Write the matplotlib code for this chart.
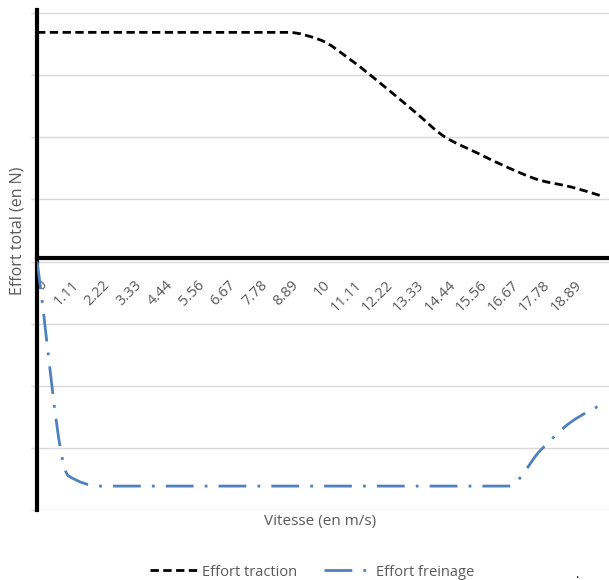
import matplotlib
matplotlib.use("Agg")
import matplotlib.pyplot as plt
import matplotlib.transforms as mtransforms
from matplotlib.lines import Line2D
from matplotlib.path import Path
from matplotlib.patches import PathPatch

plt.rcParams['font.family'] = ['Open Sans', 'DejaVu Sans']

speed_labels = ["0", "1.11", "2.22", "3.33", "4.44", "5.56", "6.67", "7.78", "8.89",
                "10", "11.11", "12.22", "13.33", "14.44", "15.56", "16.67", "17.78", "18.89", "20"]
traction = [3.69, 3.69, 3.69, 3.69, 3.69, 3.69, 3.69, 3.69, 3.69,
            3.57, 3.24, 2.84, 2.42, 2.00, 1.75, 1.51, 1.31, 1.20, 1.05]
freinage = [0.0, -3.45, -3.615, -3.615, -3.615, -3.615, -3.615, -3.615, -3.615,
            -3.615, -3.615, -3.615, -3.615, -3.615, -3.615, -3.615, -3.05, -2.58, -2.29]
shown_labels = speed_labels[:-1]

blue = '#4f81bd'
grey_txt = '#595959'
ls_trac = (0, (3, 1.6))
ls_frein = (0, (10, 4, 1, 4))


def smooth_path(xs, ys):
    """Smoothed line (monotone cubic Bezier segments through the data points)."""
    n = len(xs)
    d = [(ys[i + 1] - ys[i]) / (xs[i + 1] - xs[i]) for i in range(n - 1)]
    m = [0.0] * n
    m[0], m[-1] = d[0], d[-1]
    for i in range(1, n - 1):
        if d[i - 1] * d[i] <= 0:
            m[i] = 0.0
        else:
            m[i] = 2 * d[i - 1] * d[i] / (d[i - 1] + d[i])
    verts = [(xs[0], ys[0])]
    codes = [Path.MOVETO]
    for i in range(n - 1):
        h = xs[i + 1] - xs[i]
        verts += [(xs[i] + h / 3, ys[i] + m[i] * h / 3),
                  (xs[i + 1] - h / 3, ys[i + 1] - m[i + 1] * h / 3),
                  (xs[i + 1], ys[i + 1])]
        codes += [Path.CURVE4] * 3
    return Path(verts, codes)


fig = plt.figure(figsize=(6.09, 5.80), dpi=100)
ax = fig.add_axes([37/609, 70/580, 1 - 37/609, 500/580])

x = list(range(len(speed_labels)))
ax.add_patch(PathPatch(smooth_path(x, traction), fill=False, edgecolor='black',
                       lw=2.0, linestyle=ls_trac, zorder=4))
ax.add_patch(PathPatch(smooth_path(x, freinage), fill=False, edgecolor=blue,
                       lw=2.0, linestyle=ls_frein, zorder=4))

ax.set_xlim(0, 18.2)
ax.set_ylim(-4, 4.05)
ax.set_yticks([-4, -3, -2, -1, 0, 1, 2, 3, 4])
ax.set_yticklabels([])
ax.tick_params(axis='y', length=4, color='#d9d9d9', width=1)
ax.yaxis.grid(True, color='#d9d9d9', lw=1)
ax.set_axisbelow(True)

for s in ['top', 'right']:
    ax.spines[s].set_visible(False)
ax.spines['left'].set_linewidth(3)
ax.spines['left'].set_color('black')
ax.spines['bottom'].set_position(('data', 0.065))
ax.spines['bottom'].set_linewidth(3)
ax.spines['bottom'].set_color('black')
ax.spines['bottom'].set_zorder(3)

ax.set_xticks(x[:len(shown_labels)])
ax.set_xticklabels(shown_labels, rotation=45, ha='right', va='center',
                   rotation_mode='anchor', color=grey_txt, fontsize=10.5)
ax.tick_params(axis='x', length=0, pad=0)
offset = mtransforms.ScaledTranslation(0.08, -0.25, fig.dpi_scale_trans)
for lab in ax.get_xticklabels():
    lab.set_transform(lab.get_transform() + offset)

fig.text(320/609, 1 - 521/580, 'Vitesse (en m/s)', ha='center', va='center',
         color=grey_txt, fontsize=11)
fig.text(18/609, 1 - 231/580, 'Effort total (en N)', ha='center', va='center',
         rotation=90, color=grey_txt, fontsize=11.5)

handles = [Line2D([], [], color='black', lw=2.0, linestyle=ls_trac),
           Line2D([], [], color=blue, lw=2.0, linestyle=ls_frein)]
fig.legend(handles, ['Effort traction', 'Effort freinage'], loc='center',
           bbox_to_anchor=(312/609, 1 - 572/580), ncol=2, frameon=False,
           fontsize=10.5, handlelength=3.3, handletextpad=0.3, columnspacing=1.8,
           labelcolor=grey_txt)
fig.text(577/609, 1 - 574/580, '.', ha='center', va='center', color='black', fontsize=9)

fig.savefig('out.png', dpi=100)
